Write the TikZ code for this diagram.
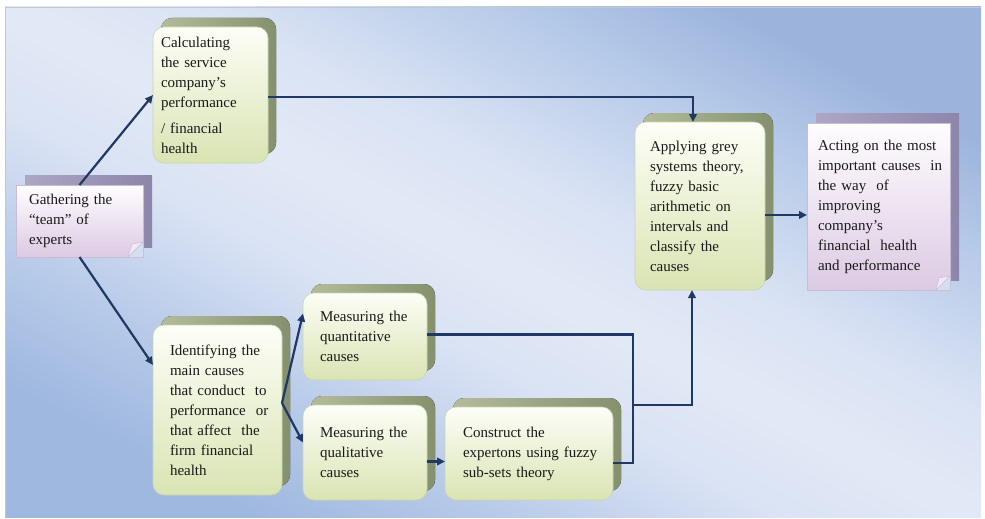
\documentclass[tikz,border=0pt]{standalone}
\usepackage{fontspec}
\setmainfont{Liberation Serif}
\usetikzlibrary{arrows.meta,calc}
\hyphenpenalty=10000
\exhyphenpenalty=10000
\pgfdeclarelayer{bglayer}
\pgfdeclarelayer{shadowlayer}
\pgfsetlayers{bglayer,shadowlayer,main}
\definecolor{arrowc}{HTML}{1F3864}
\definecolor{gtop}{HTML}{FDFEF7}
\definecolor{gbot}{HTML}{D9E4B3}
\definecolor{gborder}{HTML}{CBD4AC}
\definecolor{gsha}{HTML}{B3BB9B}
\definecolor{gshb}{HTML}{85916E}
\definecolor{ltop}{HTML}{FFFDFF}
\definecolor{lbot}{HTML}{DCCAE3}
\definecolor{lborder}{HTML}{C9BDD6}
\definecolor{lsha}{HTML}{ADA6C4}
\definecolor{lshb}{HTML}{8D86AB}
\definecolor{bgtr}{HTML}{9CB4DC}
\definecolor{bgtrm}{HTML}{B8CBE9}
\definecolor{bgl}{HTML}{DAE3F4}
\definecolor{bgmid}{HTML}{E2E9F6}
\definecolor{bgblm}{HTML}{B6C9E8}
\definecolor{bgbl}{HTML}{9FB8E0}
\definecolor{bgcut}{HTML}{D3DEF0}
\definecolor{foldc}{HTML}{EFE9F3}
\definecolor{framec}{HTML}{C4C8CE}
\pgfdeclareverticalshading{bgshade}{100bp}{color(0bp)=(bgbl); color(25bp)=(bgbl);
  color(33bp)=(bgblm); color(43bp)=(bgl); color(50bp)=(bgmid); color(57bp)=(bgl);
  color(67bp)=(bgtrm); color(75bp)=(bgtr); color(100bp)=(bgtr)}
\tikzset{
  box/.style={inner sep=0pt, outer sep=0pt, align=left,
    font=\fontsize{15}{20}\selectfont, text=black!90,
    execute at begin node={\hyphenpenalty=10000\exhyphenpenalty=10000}},
  greenbox/.style={box, rounded corners=11pt, draw=gborder, line width=0.6pt,
    top color=gtop, bottom color=gbot},
  lavbox/.style={box, draw=lborder, line width=0.6pt,
    top color=ltop, bottom color=lbot},
  gshadow/.style={rounded corners=11pt, left color=gsha, right color=gshb},
  lshadow/.style={left color=lsha, right color=lshb},
  conn/.style={draw=arrowc, line width=2.2pt},
  arr/.style={conn, -{Triangle[length=8pt,width=7.5pt]}},
}
\begin{document}
\begin{tikzpicture}[x=1pt,y=-1pt]
\useasboundingbox (0,0) rectangle (985,519);
\begin{pgfonlayer}{bglayer}
  \shade[shading=bgshade, shading angle=-27.6] (5,7) rectangle (981,517);
  \draw[framec, line width=0.8pt] (5,517) -- (5,7) -- (981,7);
\end{pgfonlayer}

\node[greenbox, minimum width=115pt, minimum height=136pt, text width=99pt] (calc) at (210.5,95)
  {Calculating\\the~service\\company’s\\performance\\[6pt]/~financial\\health};
\node[lavbox, minimum width=127pt, minimum height=72pt, text width=101pt] (gather) at (79.5,221)
  {Gathering~the\\“team”~of\\experts};
\node[greenbox, minimum width=129pt, minimum height=170pt, text width=95pt] (ident) at (217.5,410)
  {Identifying~the\\main~causes\\that~conduct~~to\\performance~~or\\that~affect~~the\\firm~financial\\health};
\node[greenbox, minimum width=124pt, minimum height=87pt, text width=90pt] (quant) at (365,336.5)
  {Measuring~the\\quantitative\\causes};
\node[greenbox, minimum width=124pt, minimum height=95pt, text width=90pt] (qual) at (365,452.5)
  {Measuring~the\\qualitative\\causes};
\node[greenbox, minimum width=168pt, minimum height=93pt, text width=132pt] (cons) at (529,453.5)
  {Construct~the\\expertons~using~fuzzy\\sub-sets~theory};
\node[greenbox, minimum width=130pt, minimum height=168pt, text width=100pt] (apply) at (700,206)
  {Applying~grey\\systems~theory,\\fuzzy~basic\\arithmetic~on\\intervals~and\\classify~the\\causes};
\node[lavbox, minimum width=143pt, minimum height=167pt, text width=121pt] (act) at (878.5,206.5)
  {Acting~on~the~most\\important~causes~~in\\the~way~~of\\improving\\company’s\\financial~~health\\and~performance};

\begin{pgfonlayer}{shadowlayer}
  \foreach \n in {calc,ident,quant,qual,cons,apply}
    \fill[gshadow] ([shift={(8,-9)}]\n.south west) rectangle ([shift={(8,-9)}]\n.north east);
  \foreach \n in {gather,act}
    \fill[lshadow] ([shift={(9,-10)}]\n.south west) rectangle ([shift={(9,-10)}]\n.north east);
\end{pgfonlayer}

% folded corners
\foreach \n/\s in {act/14,gather/15} {
  \fill[bgcut] ([xshift=-\s pt]\n.south east) -- (\n.south east) -- ([yshift=\s pt]\n.south east) -- cycle;
  \filldraw[fill=foldc, draw=lborder, line width=0.5pt]
    ([xshift=-\s pt]\n.south east) -- ([xshift=-11pt,yshift=\s pt - 2pt]\n.south east)
    -- ([yshift=\s pt]\n.south east) -- cycle;
}

% connectors
\draw[arr] (gather.north) -- (calc.west);
\draw[arr] (gather.south) -- ([yshift=45pt]ident.west);
\draw[arr] ([yshift=-2pt]calc.east) -| ([xshift=-7pt]apply.north);
\coordinate (br) at ([yshift=7pt]ident.east);
\draw[arr] (br) -- ([yshift=23pt]quant.west);
\draw[arr] (br) -- ([yshift=10pt]qual.west);
\coordinate (j) at (633,405);
\draw[conn] ([yshift=2pt]quant.east) -| (j) |- ([yshift=-9.5pt]cons.east);
\draw[arr] (j) -| ([xshift=-8pt]apply.south);
\draw[arr] ([yshift=-9pt]qual.east) -- ([yshift=-9pt]qual.east -| cons.west);
\draw[arr] ([yshift=-9pt]apply.east) -- ([yshift=-9pt]apply.east -| act.west);
\end{tikzpicture}
\end{document}
